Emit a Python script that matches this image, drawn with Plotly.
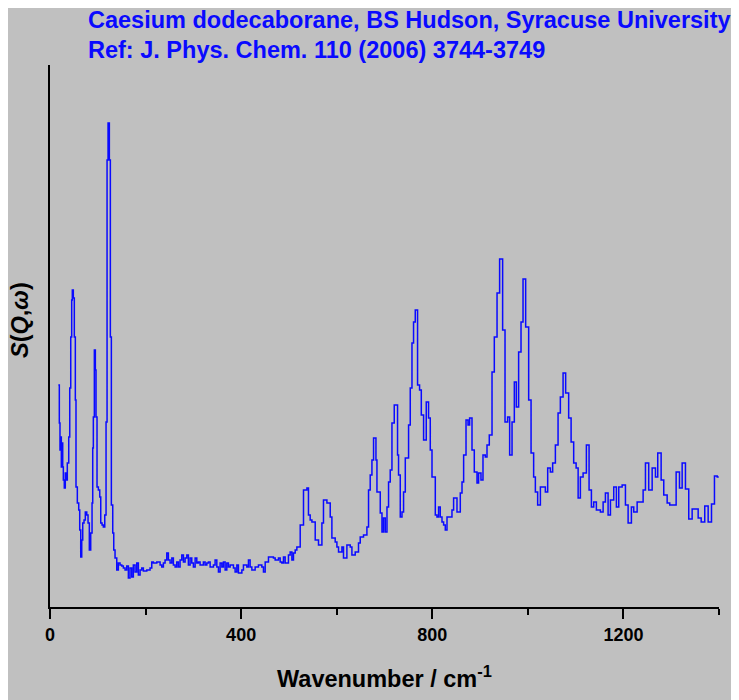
import plotly.graph_objects as go

# Wavenumber (cm-1) and S(Q,w) intensity (arbitrary units)
wavenumber = [
    17.4, 19.5, 20.9, 22.4, 23.7, 25.1, 26.6, 27.9, 29.9, 32.0, 34.1, 36.2, 39.2, 41.3, 43.4, 45.4,
    46.7, 48.8, 50.9, 53.0, 54.4, 57.2, 60.1, 62.2, 64.3, 66.4, 68.5, 71.2, 73.9, 76.9, 79.6, 82.3,
    85.2, 88.0, 89.4, 90.7, 92.8, 94.9, 96.3, 98.4, 101.2, 104.1, 106.2, 108.9, 111.6, 114.6, 117.3,
    119.4, 121.5, 124.2, 126.3, 128.4, 131.3, 133.4, 136.1, 139.7, 143.0, 146.6, 150.2, 153.5, 157.1,
    160.6, 164.0, 167.5, 171.1, 174.4, 178.0, 181.6, 184.9, 188.5, 192.0, 195.4, 202.5, 209.4, 213.0,
    216.3, 223.5, 230.4, 233.9, 237.3, 240.8, 244.4, 247.7, 251.3, 254.9, 258.2, 261.8, 265.3, 268.7,
    272.2, 275.8, 279.2, 282.7, 286.3, 289.6, 293.2, 296.7, 300.1, 303.7, 307.2, 310.6, 314.1, 321.0,
    324.6, 328.2, 331.5, 335.1, 342.0, 345.5, 349.1, 352.5, 356.0, 359.6, 362.9, 366.5, 370.0, 373.4,
    377.0, 383.9, 387.4, 391.0, 394.3, 401.5, 404.8, 411.9, 415.3, 418.8, 422.4, 429.3, 436.2, 443.3,
    446.7, 450.3, 457.2, 467.6, 471.2, 478.1, 481.7, 485.2, 488.6, 492.1, 499.0, 502.6, 506.2, 509.5,
    513.1, 516.6, 523.6, 530.5, 537.6, 540.9, 544.5, 548.1, 555.0, 561.9, 569.0, 572.3, 579.5, 586.4,
    589.9, 596.8, 600.4, 603.8, 610.9, 614.2, 621.3, 628.3, 631.8, 638.7, 645.6, 649.2, 656.1, 663.2,
    666.6, 670.1, 673.7, 677.1, 682.1, 684.2, 691.1, 694.7, 698.0, 701.6, 705.2, 708.5, 712.0, 715.6,
    720.4, 727.3, 729.4, 733.0, 736.6, 739.9, 743.5, 750.4, 753.9, 757.5, 760.8, 764.4, 769.2, 773.4,
    777.0, 781.8, 787.4, 792.2, 795.8, 799.4, 806.3, 809.8, 813.2, 816.7, 820.3, 823.7, 827.2, 830.8,
    841.2, 844.6, 851.7, 858.6, 862.2, 865.6, 870.6, 874.8, 878.1, 883.1, 887.9, 893.6, 896.9, 901.9,
    906.1, 910.9, 914.5, 919.3, 925.0, 929.8, 935.5, 940.9, 947.2, 952.2, 957.7, 961.9, 966.9, 971.7,
    975.9, 980.7, 985.7, 989.9, 995.4, 1001.7, 1006.7, 1012.1, 1015.7, 1020.5, 1026.2, 1036.6, 1041.5,
    1047.1, 1051.9, 1057.6, 1063.2, 1068.0, 1073.7, 1079.1, 1085.4, 1090.5, 1095.9, 1101.0, 1105.2,
    1109.9, 1115.6, 1122.5, 1128.1, 1133.0, 1137.8, 1143.4, 1151.8, 1157.5, 1162.3, 1167.9, 1172.8,
    1179.7, 1185.3, 1190.2, 1197.3, 1204.2, 1209.8, 1216.7, 1221.6, 1228.7, 1241.2, 1246.1, 1252.9,
    1260.1, 1267.0, 1271.8, 1278.9, 1284.4, 1291.5, 1296.9, 1310.3, 1317.3, 1322.9, 1329.8, 1336.7,
    1343.8, 1356.4, 1362.7, 1370.2, 1377.3, 1384.3, 1390.5, 1396.2, 1399.5,
]
intensity = [
    222, 184, 157, 170, 140, 164, 140, 127, 119, 134, 127, 144, 170, 219, 270, 307,
    317, 309, 270, 207, 120, 104, 97, 77, 50, 67, 84, 87, 95, 92, 84, 57,
    74, 104, 159, 190, 257, 237, 190, 120, 117, 110, 84, 82, 80, 92, 185,
    447, 484, 447, 270, 102, 74, 57, 49, 37, 44, 42, 41, 39, 37,
    41, 29, 39, 30, 42, 35, 44, 32, 37, 39, 36, 37, 39, 45,
    44, 45, 42, 40, 44, 47, 54, 47, 44, 49, 42, 40, 45, 40,
    47, 52, 45, 49, 52, 42, 49, 44, 40, 49, 44, 45, 42, 45,
    42, 44, 45, 40, 42, 47, 40, 35, 44, 40, 45, 37, 44, 40,
    42, 39, 35, 42, 34, 37, 42, 40, 47, 40, 37, 40, 42, 40,
    35, 45, 50, 49, 47, 49, 45, 44, 50, 44, 52, 55, 47, 54,
    57, 60, 82, 117, 119, 92, 87, 85, 67, 62, 84, 107, 104, 90,
    69, 65, 60, 55, 60, 49, 62, 60, 52, 55, 64, 70, 72, 80,
    117, 132, 147, 169, 147, 115, 94, 75, 89, 75, 100, 125, 137, 184,
    202, 152, 132, 90, 95, 115, 149, 182, 219, 264, 285, 297, 222, 217,
    192, 167, 205, 189, 157, 130, 92, 90, 100, 90, 85, 82, 77, 90,
    97, 109, 95, 114, 125, 152, 187, 182, 189, 157, 135, 124, 134, 127,
    152, 150, 162, 172, 235, 270, 314, 348, 277, 185, 190, 152, 185, 225,
    200, 255, 285, 328, 280, 207, 154, 130, 115, 102, 120, 115, 139,
    135, 144, 162, 194, 210, 234, 214, 189, 165, 144, 139, 109,
    130, 134, 162, 117, 100, 105, 97, 95, 105, 114, 92, 107,
    120, 100, 120, 122, 102, 84, 100, 95, 105, 117, 144, 117,
    139, 130, 154, 127, 112, 104, 102, 135, 119, 144, 118, 88,
    98, 89, 85, 101, 85, 103, 131, 130, 130,
]

x_tick_values = [0, 400, 800, 1200]
x_tick_labels = ["0", "400", "800", "1200"]
x_minor_ticks = [200, 600, 1000, 1400]

title_line1 = "Caesium dodecaborane, BS Hudson, Syracuse University"
title_line2 = "Ref: J. Phys. Chem. 110 (2006) 3744-3749"

FONT = "Liberation Sans, Arial, sans-serif"
BG = "#c0c0c0"
BLUE = "#0a0aff"

fig = go.Figure()
fig.add_trace(go.Scatter(
    x=wavenumber, y=intensity, mode="lines",
    line=dict(color=BLUE, width=1.5, shape="hv"),
    showlegend=False, hoverinfo="skip",
))

# page body has an 8px margin, so the figure is offset by 8px
fig.update_layout(
    width=731, height=692,
    margin=dict(l=42, r=20, t=57, b=93),
    paper_bgcolor=BG, plot_bgcolor=BG,
    xaxis=dict(
        range=[0, 1400], showgrid=False, zeroline=False,
        showline=True, linecolor="black", linewidth=2,
        ticks="outside", ticklen=10, tickwidth=2, tickcolor="black",
        tickvals=x_tick_values, ticktext=x_tick_labels,
        tickfont=dict(family=FONT, size=18, color="black", weight="bold"),
        minor=dict(tickvals=x_minor_ticks, ticks="outside", ticklen=6,
                   tickwidth=2, tickcolor="black", showgrid=False),
    ),
    yaxis=dict(
        range=[0, 542], showgrid=False, zeroline=False,
        showline=True, linecolor="black", linewidth=2,
        ticks="", showticklabels=False,
    ),
    annotations=[
        dict(text="<b>" + title_line1 + "</b>", xref="paper", yref="paper",
             x=(86 - 50) / 669, y=(607 - 20) / 542, xanchor="left", yanchor="middle",
             showarrow=False, font=dict(family=FONT, size=23.5, color=BLUE)),
        dict(text="<b>" + title_line2 + "</b>", xref="paper", yref="paper",
             x=(86 - 50) / 669, y=(607 - 50) / 542, xanchor="left", yanchor="middle",
             showarrow=False, font=dict(family=FONT, size=23.5, color=BLUE)),
        dict(text="<b>Wavenumber / cm<sup>-1</sup></b>", xref="paper", yref="paper",
             x=0.5, y=(607 - 677) / 542, xanchor="center", yanchor="middle",
             showarrow=False, font=dict(family=FONT, size=23.5, color="black")),
        dict(text="<b><i>S</i>(<i>Q</i>,<i>ω</i>)</b>", xref="paper", yref="paper",
             x=(20 - 50) / 669, y=(607 - 320) / 542, xanchor="center", yanchor="middle",
             textangle=-90, showarrow=False,
             font=dict(family=FONT, size=23.5, color="black")),
    ],
)

fig.write_html("out.html")
